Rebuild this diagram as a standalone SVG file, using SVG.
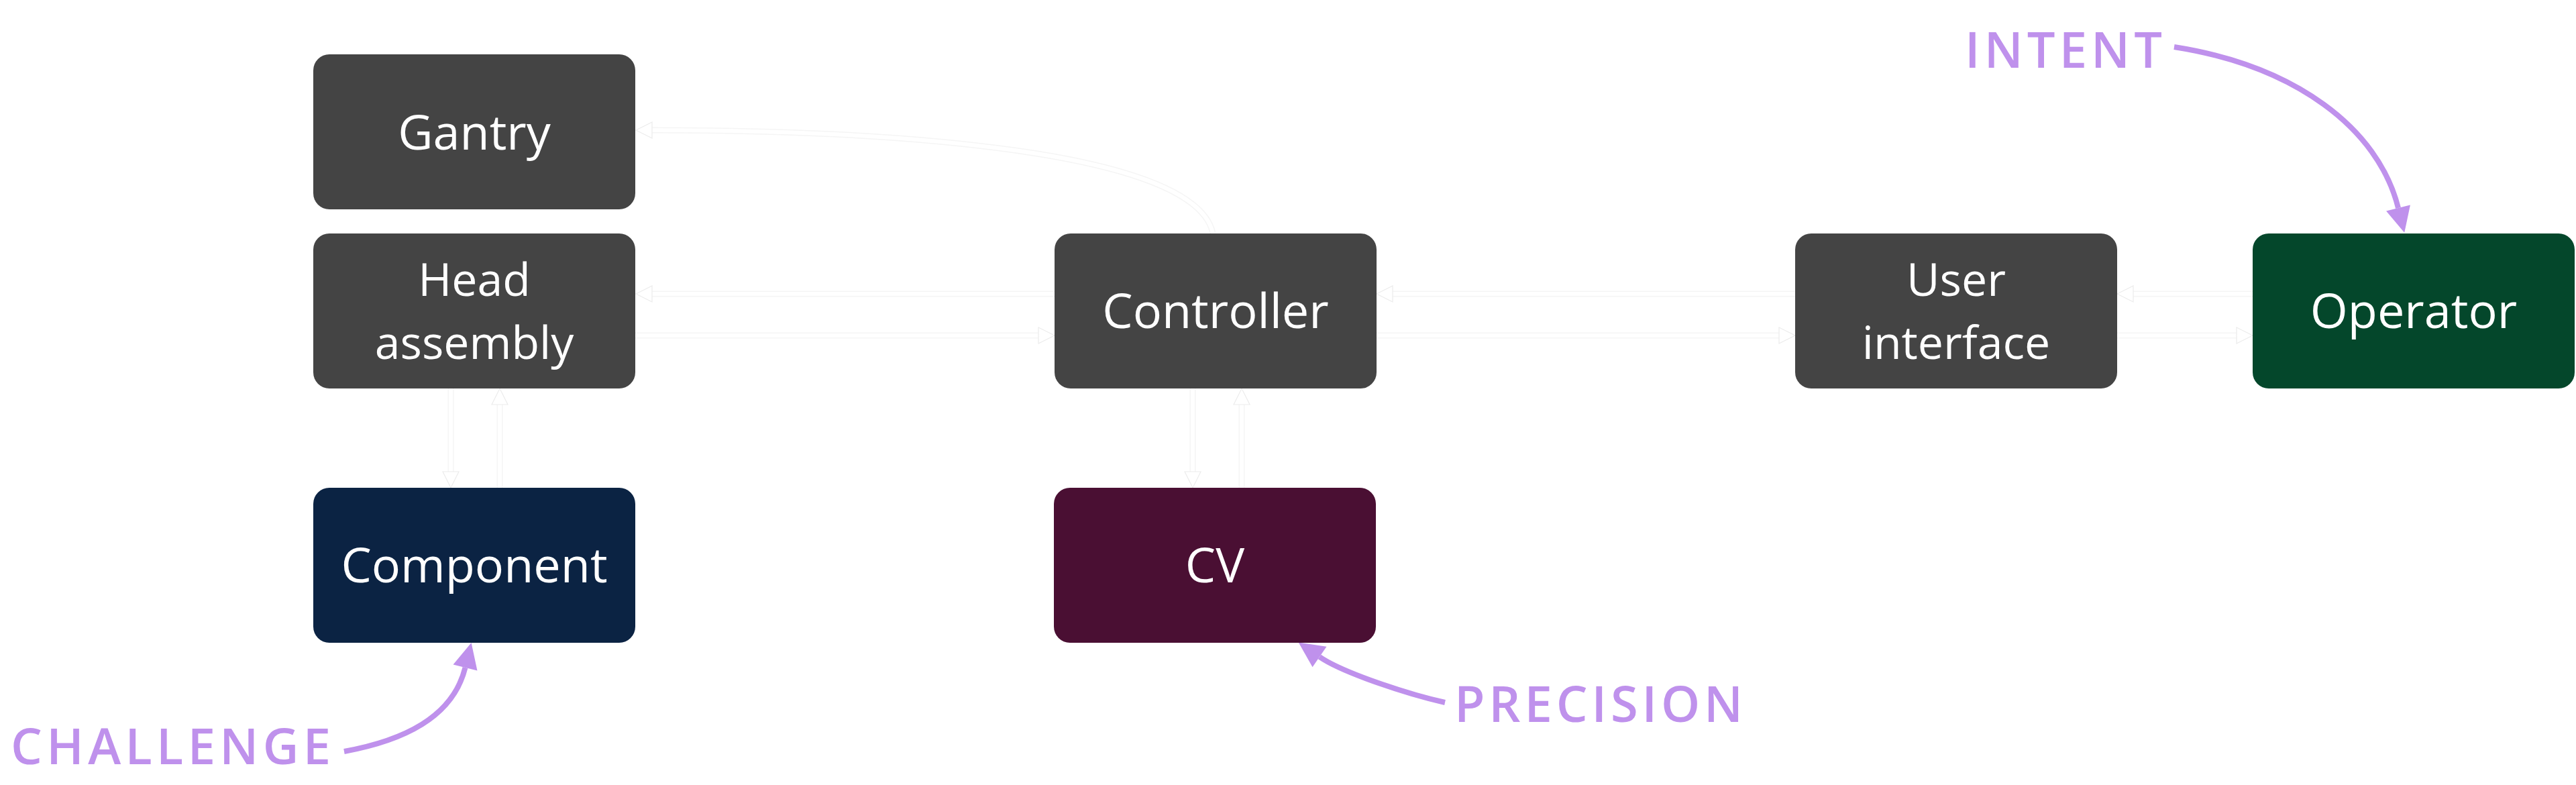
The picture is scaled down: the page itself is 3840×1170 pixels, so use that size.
<svg xmlns="http://www.w3.org/2000/svg" width="3840" height="1170" viewBox="0 0 3840 1170">
  <style>
    .node rect { stroke: none; }
    .gray { fill: #444444; }
    .navy { fill: #0B2343; }
    .plum { fill: #4A0F33; }
    .green { fill: #04472B; }
    .label { font-family: "Open Sans", "Noto Sans", "Liberation Sans", sans-serif; font-size: 72px; fill: #ffffff; text-anchor: middle; }
    .label.two { font-size: 68px; }
    .casing { fill: none; stroke: #f5f5f5; stroke-width: 9; }
    .core { fill: none; stroke: #ffffff; stroke-width: 6; }
    .accent { fill: none; stroke: #BF91EC; stroke-width: 8; }
    .note { font-family: "Open Sans", "Noto Sans", "Liberation Sans", sans-serif; font-size: 74px; font-weight: 600; fill: #BF91EC; }
  </style>
  <defs>
    <marker id="open" markerUnits="userSpaceOnUse" viewBox="-2 -14 30 28" markerWidth="30" markerHeight="28" refX="0" refY="0" orient="auto" overflow="visible">
      <path d="M0,-12 L24,0 L0,12 Z" fill="#ffffff" stroke="#ececec" stroke-width="1.2"/>
    </marker>
    <marker id="accentHead" markerUnits="userSpaceOnUse" viewBox="-2 -20 42 40" markerWidth="42" markerHeight="40" refX="0" refY="0" orient="auto" overflow="visible">
      <path d="M0,-18.5 L38,0 L0,18.5 Z" fill="#BF91EC"/>
    </marker>
  </defs>

  <g id="connectors">
    <g id="edge-casings">
      <path class="casing" d="M1808,348 C1782,222 1320,194 972,194"/>
      <path class="casing" d="M1572,438 L972,438"/>
      <path class="casing" d="M947,500 L1548,500"/>
      <path class="casing" d="M2676,438 L2076,438"/>
      <path class="casing" d="M2052,500 L2652,500"/>
      <path class="casing" d="M3358,438 L3180,438"/>
      <path class="casing" d="M3156,500 L3334,500"/>
      <path class="casing" d="M672,579 L672,703"/>
      <path class="casing" d="M745,727 L745,603"/>
      <path class="casing" d="M1778,579 L1778,703"/>
      <path class="casing" d="M1851,727 L1851,603"/>
    </g>
    <path id="controller-gantry" class="core" marker-end="url(#open)" d="M1808,348 C1782,222 1320,194 972,194"/>
    <path id="controller-head" class="core" marker-end="url(#open)" d="M1572,438 L972,438"/>
    <path id="head-controller" class="core" marker-end="url(#open)" d="M947,500 L1548,500"/>
    <path id="ui-controller" class="core" marker-end="url(#open)" d="M2676,438 L2076,438"/>
    <path id="controller-ui" class="core" marker-end="url(#open)" d="M2052,500 L2652,500"/>
    <path id="operator-ui" class="core" marker-end="url(#open)" d="M3358,438 L3180,438"/>
    <path id="ui-operator" class="core" marker-end="url(#open)" d="M3156,500 L3334,500"/>
    <path id="head-component" class="core" marker-end="url(#open)" d="M672,579 L672,703"/>
    <path id="component-head" class="core" marker-end="url(#open)" d="M745,727 L745,603"/>
    <path id="controller-cv" class="core" marker-end="url(#open)" d="M1778,579 L1778,703"/>
    <path id="cv-controller" class="core" marker-end="url(#open)" d="M1851,727 L1851,603"/>

    <path id="challenge-arrow" class="accent" marker-end="url(#accentHead)" d="M513,1120 C600,1104 675,1070 693.5,995"/>
    <path id="precision-arrow" class="accent" marker-end="url(#accentHead)" d="M2154,1047 C2100,1035 2002,1003 1967,979"/>
    <path id="intent-arrow" class="accent" marker-end="url(#accentHead)" d="M3241,70 C3420,98 3545,190 3575,310"/>
  </g>

  <g id="node-gantry" class="node">
    <rect class="gray" x="467" y="81" width="480" height="231" rx="24"/>
    <text class="label" x="707" y="223">Gantry</text>
  </g>
  <g id="node-head-assembly" class="node">
    <rect class="gray" x="467" y="348" width="480" height="231" rx="24"/>
    <text class="label two" x="707" y="441">Head</text>
    <text class="label two" x="707" y="535">assembly</text>
  </g>
  <g id="node-component" class="node">
    <rect class="navy" x="467" y="727" width="480" height="231" rx="24"/>
    <text class="label" x="707" y="868">Component</text>
  </g>
  <g id="node-controller" class="node">
    <rect class="gray" x="1572" y="348" width="480" height="231" rx="24"/>
    <text class="label" x="1812" y="489">Controller</text>
  </g>
  <g id="node-cv" class="node">
    <rect class="plum" x="1571" y="727" width="480" height="231" rx="24"/>
    <text class="label" x="1811" y="868">CV</text>
  </g>
  <g id="node-user-interface" class="node">
    <rect class="gray" x="2676" y="348" width="480" height="231" rx="24"/>
    <text class="label two" x="2916" y="441">User</text>
    <text class="label two" x="2916" y="535">interface</text>
  </g>
  <g id="node-operator" class="node">
    <rect class="green" x="3358" y="348" width="480" height="231" rx="24"/>
    <text class="label" x="3598" y="489">Operator</text>
  </g>

  <g id="annotations">
    <text class="note" x="16" y="1139" textLength="477" lengthAdjust="spacing">CHALLENGE</text>
    <text class="note" x="2168" y="1076" textLength="430" lengthAdjust="spacing">PRECISION</text>
    <text class="note" x="2929" y="101" textLength="294" lengthAdjust="spacing">INTENT</text>
  </g>
</svg>
